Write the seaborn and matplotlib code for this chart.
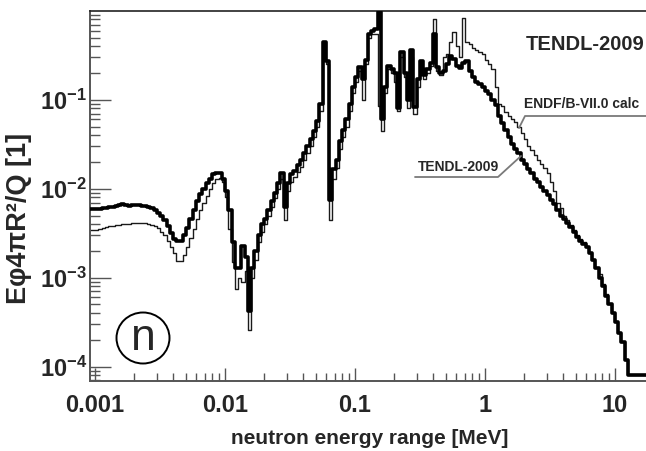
import numpy as np
import pandas as pd
import matplotlib
matplotlib.use("Agg")
import matplotlib.pyplot as plt
import seaborn as sns
from matplotlib.ticker import FixedLocator, FixedFormatter, LogLocator, NullFormatter
from matplotlib.patches import Ellipse
from matplotlib.lines import Line2D

# Energy group structure: 40 groups per decade, first group edge just below 1 keV
bins_per_decade = 40
log_e_start = -3.05

# Normalised neutron spectrum E*phi*4*pi*R^2/Q per group
tendl_2009 = [
    5.9e-3, 5.9e-3,
    5.9e-3, 5.9e-3, 6.0e-3, 6.1e-3, 6.2e-3, 6.3e-3, 6.4e-3, 6.5e-3, 6.7e-3, 6.5e-3,
    6.4e-3, 6.5e-3, 6.5e-3, 6.5e-3, 6.4e-3, 6.4e-3, 6.3e-3, 6.1e-3, 5.8e-3, 5.4e-3,
    4.9e-3, 4.4e-3, 3.8e-3, 3.2e-3, 2.7e-3, 2.6e-3, 2.6e-3, 3.0e-3, 3.6e-3, 4.6e-3,
    5.8e-3, 7.3e-3, 8.8e-3, 1.00e-2, 1.15e-2, 1.30e-2, 1.45e-2, 1.52e-2, 1.52e-2, 1.30e-2,
    9.5e-3, 5.8e-3, 2.5e-3, 1.3e-3, 1.3e-3, 2.3e-3, 1.7e-3, 4.2e-4, 1.3e-3, 2.0e-3,
    3.0e-3, 4.0e-3, 4.6e-3, 5.8e-3, 7.2e-3, 9.0e-3, 1.15e-2, 1.50e-2, 6.3e-3, 1.17e-2,
    1.45e-2, 1.60e-2, 1.86e-2, 2.1e-2, 2.5e-2, 3.0e-2, 3.6e-2, 4.5e-2, 5.8e-2, 9.0e-2,
    0.44, 0.27, 7.5e-3, 1.65e-2, 2.1e-2, 3.4e-2, 4.6e-2, 6.0e-2, 9.0e-2, 0.14,
    0.18, 0.235, 0.17, 0.28, 0.55, 0.60, 0.62, 0.97, 0.06, 0.14,
    0.24, 0.22, 0.20, 0.08, 0.34, 0.20, 0.10, 0.36, 0.083, 0.17,
    0.27, 0.19, 0.22, 0.26, 0.55, 0.235, 0.20, 0.21, 0.25, 0.31,
    0.29, 0.24, 0.23, 0.26, 0.27, 0.21, 0.18, 0.16, 0.15, 0.14,
    0.125, 0.115, 0.10, 0.088, 0.065, 0.055, 0.046, 0.038, 0.032, 0.028,
    0.025, 0.021, 0.019, 0.0165, 0.015, 0.013, 0.012, 0.0105, 0.0095, 0.0085,
    7.5e-3, 6.8e-3, 5.8e-3, 5.0e-3, 4.6e-3, 4.1e-3, 3.7e-3, 3.3e-3, 2.9e-3, 2.6e-3,
    2.4e-3, 2.2e-3, 1.9e-3, 1.6e-3, 1.3e-3, 1.0e-3, 8.0e-4, 6.2e-4, 5.0e-4, 4.0e-4,
    3.2e-4, 2.4e-4, 1.9e-4, 1.2e-4,
    8e-5, 8e-5, 8e-5, 8e-5, 8e-5, 8e-5, 8e-5,
]

endf_b7_calc = [
    3.4e-3, 3.4e-3,
    3.4e-3, 3.5e-3, 3.6e-3, 3.7e-3, 3.8e-3, 3.8e-3, 3.9e-3, 3.9e-3, 4.0e-3, 4.0e-3,
    4.0e-3, 4.1e-3, 4.1e-3, 4.1e-3, 4.1e-3, 4.1e-3, 4.0e-3, 3.9e-3, 3.8e-3, 3.6e-3,
    3.3e-3, 3.0e-3, 2.6e-3, 2.2e-3, 1.9e-3, 1.55e-3, 1.55e-3, 1.8e-3, 2.2e-3, 2.8e-3,
    3.5e-3, 4.6e-3, 5.8e-3, 7.0e-3, 8.2e-3, 1.00e-2, 1.17e-2, 1.30e-2, 1.33e-2, 1.20e-2,
    8.0e-3, 3.5e-3, 1.5e-3, 7.5e-4, 1.0e-3, 9.0e-4, 1.2e-3, 2.6e-4, 1.0e-3, 1.6e-3,
    2.5e-3, 3.3e-3, 4.0e-3, 5.0e-3, 6.3e-3, 7.8e-3, 1.00e-2, 1.30e-2, 4.5e-3, 9.5e-3,
    1.20e-2, 1.35e-2, 1.55e-2, 1.75e-2, 2.1e-2, 2.5e-2, 3.0e-2, 3.8e-2, 5.0e-2, 7.5e-2,
    0.44, 0.25, 4.5e-3, 1.3e-2, 1.7e-2, 2.8e-2, 3.8e-2, 5.0e-2, 7.5e-2, 0.12,
    0.16, 0.21, 0.10, 0.25, 0.50, 0.55, 0.55, 0.085, 0.044, 0.12,
    0.22, 0.20, 0.16, 0.075, 0.30, 0.18, 0.08, 0.30, 0.07, 0.14,
    0.22, 0.17, 0.20, 0.24, 0.80, 0.21, 0.19, 0.30, 0.33, 0.44,
    0.57, 0.40, 0.30, 0.83, 0.45, 0.42, 0.38, 0.36, 0.34, 0.33,
    0.28, 0.25, 0.22, 0.14, 0.09, 0.085, 0.072, 0.066, 0.060, 0.056,
    0.050, 0.042, 0.036, 0.030, 0.027, 0.024, 0.021, 0.019, 0.017, 0.015,
    0.012, 9.5e-3, 7.0e-3, 6.0e-3, 4.9e-3, 4.4e-3, 3.9e-3, 3.4e-3, 3.0e-3, 2.7e-3,
    2.5e-3, 2.2e-3, 1.9e-3, 1.6e-3, 1.3e-3, 1.1e-3, 8.5e-4, 6.5e-4, 5.0e-4, 4.0e-4,
    3.2e-4, 2.4e-4, 1.9e-4, 1.2e-4,
    8e-5, 8e-5, 8e-5, 8e-5, 8e-5, 8e-5, 8e-5,
]

x_tick_values = [1e-3, 1e-2, 1e-1, 1, 10]
x_tick_labels = ["0.001", "0.01", "0.1", "1", "10"]
y_tick_values = [1e-4, 1e-3, 1e-2, 1e-1]
y_tick_labels = [r"$\mathbf{10^{-4}}$", r"$\mathbf{10^{-3}}$",
                 r"$\mathbf{10^{-2}}$", r"$\mathbf{10^{-1}}$"]

sns.set_style("ticks")
plt.rcParams["font.family"] = ["Liberation Sans", "DejaVu Sans"]
plt.rcParams["mathtext.fontset"] = "custom"
plt.rcParams["mathtext.rm"] = "Liberation Sans"
plt.rcParams["mathtext.bf"] = "Liberation Sans:bold"

n_groups = len(tendl_2009)
edges = 10 ** (log_e_start + np.arange(n_groups + 1) / bins_per_decade)


def step_frame(values):
    return pd.DataFrame({"energy": edges, "flux": list(values) + [values[-1]]})


W, H = 646, 451
fig = plt.figure(figsize=(W / 100, H / 100), dpi=100)
ax = fig.add_axes([90 / W, 1 - 381 / H, (W - 90) / W, (381 - 10.5) / H])

sns.lineplot(data=step_frame(endf_b7_calc), x="energy", y="flux", ax=ax,
             drawstyle="steps-post", color="#1a1a1a", linewidth=1.0,
             estimator=None, zorder=2)
sns.lineplot(data=step_frame(tendl_2009), x="energy", y="flux", ax=ax,
             drawstyle="steps-post", color="black", linewidth=2.6,
             estimator=None, zorder=3)

ax.set_xscale("log")
ax.set_yscale("log")
ax.set_xlim(10 ** -3.0385, 10 ** 1.2385)
ax.set_ylim(10 ** -4.161, 10 ** 0.003)
ax.set_xlabel("")
ax.set_ylabel("")

ax.xaxis.set_major_locator(FixedLocator(x_tick_values))
ax.xaxis.set_major_formatter(FixedFormatter(x_tick_labels))
ax.xaxis.set_minor_locator(LogLocator(base=10, subs=np.arange(2, 10), numticks=30))
ax.xaxis.set_minor_formatter(NullFormatter())
ax.yaxis.set_major_locator(FixedLocator(y_tick_values))
ax.yaxis.set_major_formatter(FixedFormatter(y_tick_labels))
ax.yaxis.set_minor_locator(LogLocator(base=10, subs=np.arange(2, 10), numticks=30))
ax.yaxis.set_minor_formatter(NullFormatter())

axis_grey = "#555555"
ax.tick_params(axis="x", which="major", direction="in", length=9.5, width=1.0,
               color=axis_grey, labelsize=17, pad=9)
ax.tick_params(axis="x", which="minor", direction="in", length=5.5, width=1.0,
               color=axis_grey)
ax.tick_params(axis="y", which="major", direction="in", length=15, width=1.0,
               color=axis_grey, labelsize=17, pad=2)
ax.tick_params(axis="y", which="minor", direction="in", length=7.5, width=1.0,
               color=axis_grey)
for lab in ax.get_xticklabels():
    lab.set_fontweight("bold")

for side in ("left", "bottom"):
    ax.spines[side].set_color(axis_grey)
    ax.spines[side].set_linewidth(1.4)
ax.spines["top"].set_color("#222222")
ax.spines["top"].set_linewidth(1.2)
ax.spines["right"].set_visible(False)

# axis titles
fig.text(19 / W, 1 - 218 / H, "Eφ4πR²/Q [1]", rotation=90, ha="center",
         va="center", fontsize=19.5, fontweight="bold")
fig.text(370 / W, 1 - 438 / H, "neutron energy range [MeV]", ha="center",
         va="center", fontsize=15, fontweight="bold")

# library annotations
fig.text(585 / W, 1 - 44 / H, "TENDL-2009", ha="center", va="center",
         fontsize=14.5, fontweight="bold")
fig.text(524 / W, 1 - 104 / H, "ENDF/B-VII.0 calc", ha="left", va="center",
         fontsize=10, fontweight="bold")
fig.text(458 / W, 1 - 167 / H, "TENDL-2009", ha="center", va="center",
         fontsize=10, fontweight="bold")

leader_grey = "#7a7a7a"
for xs, ys in (([646, 525, 519], [116, 116, 128]),
               ([415, 498, 521], [177, 177, 156])):
    fig.add_artist(Line2D([x / W for x in xs], [1 - y / H for y in ys],
                          transform=fig.transFigure, color=leader_grey, lw=1.3))

# particle marker
fig.add_artist(Ellipse((143 / W, 1 - 338 / H), 53 / W, 51 / H,
                       transform=fig.transFigure, fill=False, ec="black", lw=1.4))
fig.text(143 / W, 1 - 350 / H, "n", ha="center", va="baseline", fontsize=32)

fig.savefig("out.png", dpi=100)
